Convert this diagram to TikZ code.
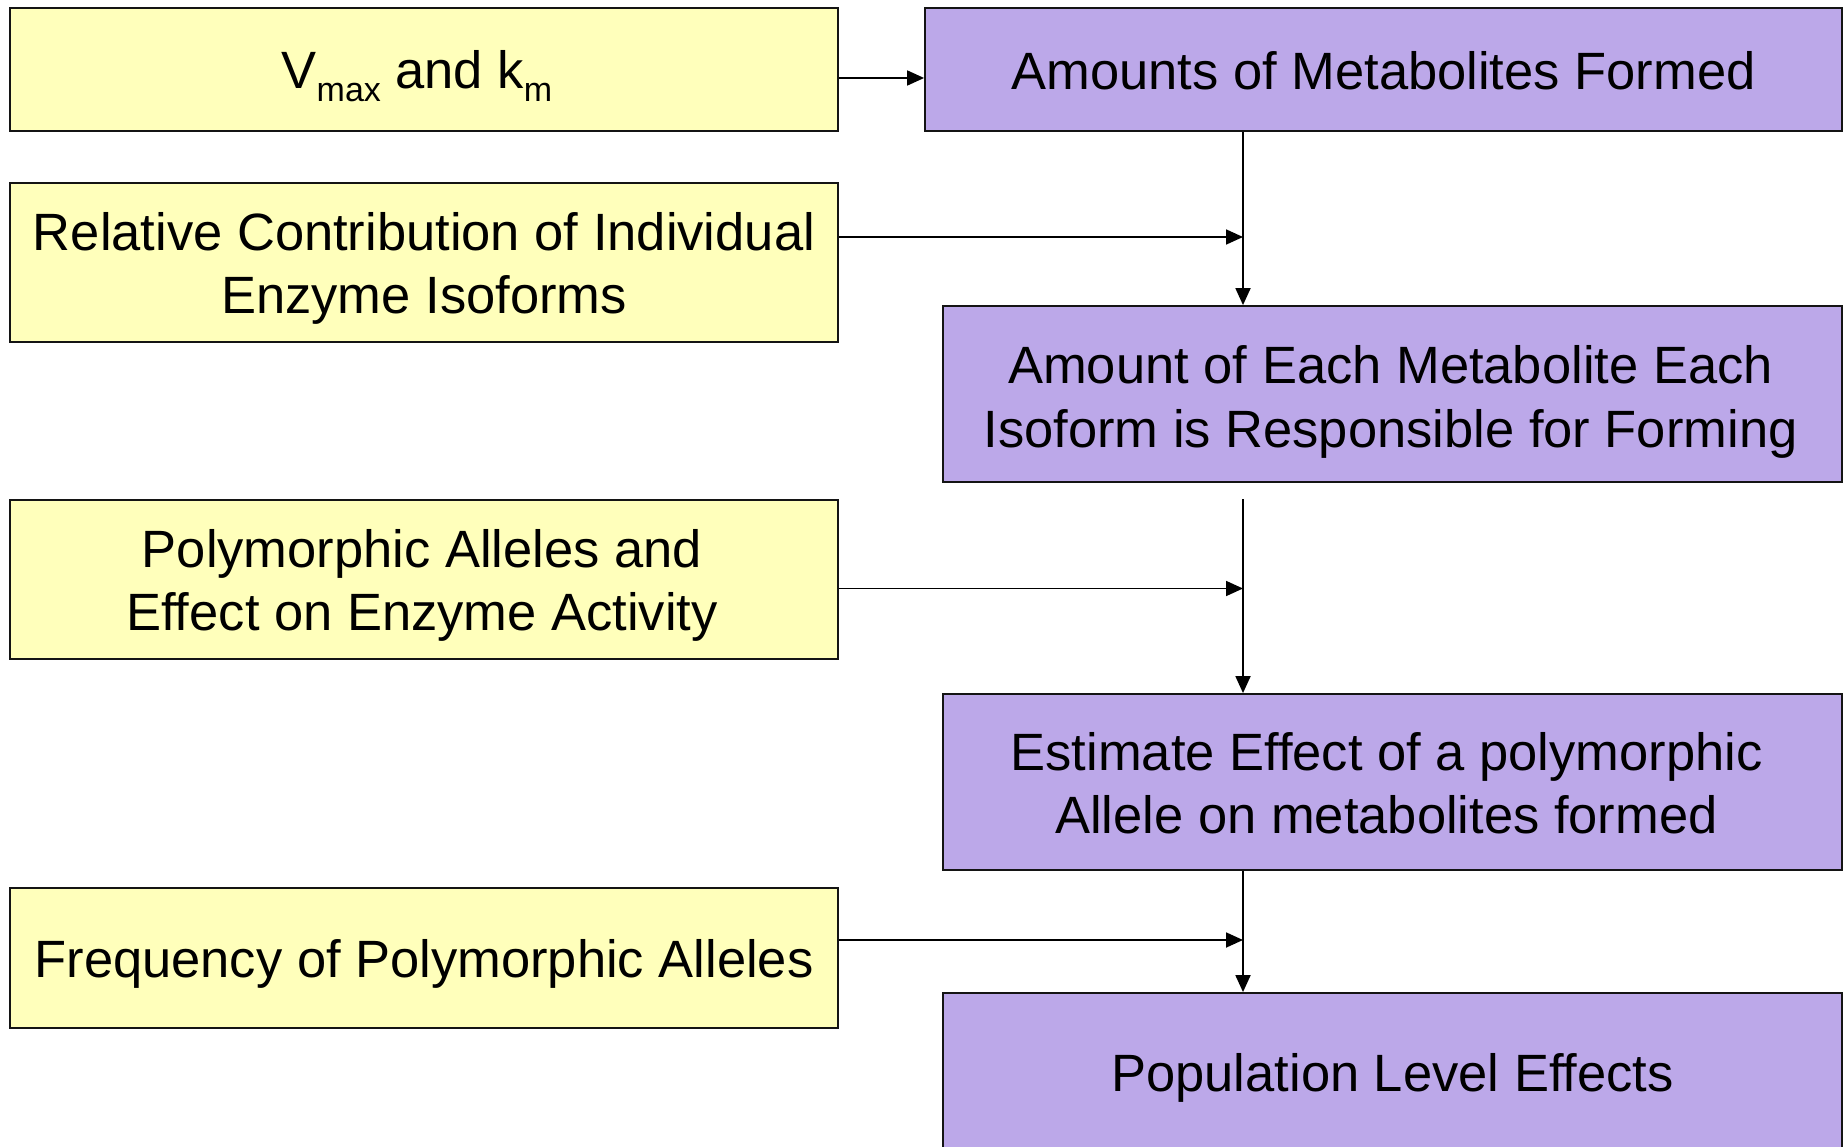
\documentclass[tikz,border=0pt]{standalone}
\usepackage{fontspec}
\setmainfont{Liberation Sans}
\usetikzlibrary{arrows.meta}
\definecolor{boxyellow}{RGB}{255,255,187}
\definecolor{boxpurple}{RGB}{188,168,233}
\definecolor{edgegray}{RGB}{20,20,20}
\tikzset{
  inbox/.style={draw=edgegray, line width=1.8pt, fill=boxyellow, inner sep=0pt,
    minimum width=828pt},
  outbox/.style={draw=edgegray, line width=1.8pt, fill=boxpurple, inner sep=0pt},
  txt/.style={inner sep=0pt, align=center, font=\fontsize{52.5}{63.5}\selectfont},
  arr/.style={draw=black, line width=1.8pt, -{Triangle[length=17pt,width=15pt]}},
}
\newcommand{\lowsub}[1]{\raisebox{-13pt}{\fontsize{34}{34}\selectfont #1}}
\begin{document}
\begin{tikzpicture}[x=1pt,y=-1pt]
\path[use as bounding box] (0,0) rectangle (1845,1147);
\clip (0,0) rectangle (1845,1147);
\fill[white] (0,0) rectangle (1845,1147);

% input boxes (left column)
\node[inbox, minimum height=123pt] (Y1) at (424,69.5) {};
\node[inbox, minimum height=159pt] (Y2) at (424,262.5) {};
\node[inbox, minimum height=159pt] (Y3) at (424,579.5) {};
\node[inbox, minimum height=140pt] (Y4) at (424,958) {};
\node[txt, xshift=-7pt, yshift=-6.5pt] (tY1) at (Y1) {V\lowsub{max} and k\lowsub{m}};
\node[txt, yshift=-6pt] (tY2) at (Y2) {Relative Contribution of Individual\\Enzyme Isoforms};
\node[txt, xshift=-2pt, yshift=-6pt] (tY3) at (Y3) {Polymorphic Alleles and\\Effect on Enzyme Activity};
\node[txt, yshift=-6pt] (tY4) at (Y4) {Frequency of Polymorphic Alleles};

% result boxes (right column)
\node[outbox, minimum width=917pt, minimum height=123pt] (P1) at (1383.5,69.5) {};
\node[outbox, minimum width=899pt, minimum height=176pt] (P2) at (1392.5,394) {};
\node[outbox, minimum width=899pt, minimum height=176pt] (P3) at (1392.5,782) {};
\node[outbox, minimum width=899pt, minimum height=170pt] (P4) at (1392.5,1078) {};
\node[txt, yshift=-1pt] (tP1) at (P1) {Amounts of Metabolites Formed};
\node[txt, xshift=-2pt, yshift=-8pt] (tP2) at (P2) {Amount of Each Metabolite Each\\Isoform is Responsible for Forming};
\node[txt, xshift=-6pt, yshift=-1pt] (tP3) at (P3) {Estimate Effect of a polymorphic\\Allele on metabolites formed};
\node[txt] (tP4) at (P4) {Population Level Effects};

% spine and junctions
\coordinate (spine) at (1243,0);
\coordinate (j2) at (1243,237);
\coordinate (s3) at (1243,499);
\coordinate (j3) at (1243,588.5);
\coordinate (j4) at (1243,940);

% connectors
\draw[arr] ([yshift=-8.5pt]Y1.east) -- ([yshift=-8.5pt]P1.west);
\draw[arr] (spine |- P1.south) -- (spine |- P2.north);
\draw[arr] (Y2.east |- j2) -- (j2);
\draw[arr] (s3) -- (spine |- P3.north);
\draw[arr] (Y3.east |- j3) -- (j3);
\draw[arr] (spine |- P3.south) -- (spine |- P4.north);
\draw[arr] (Y4.east |- j4) -- (j4);
\end{tikzpicture}
\end{document}
